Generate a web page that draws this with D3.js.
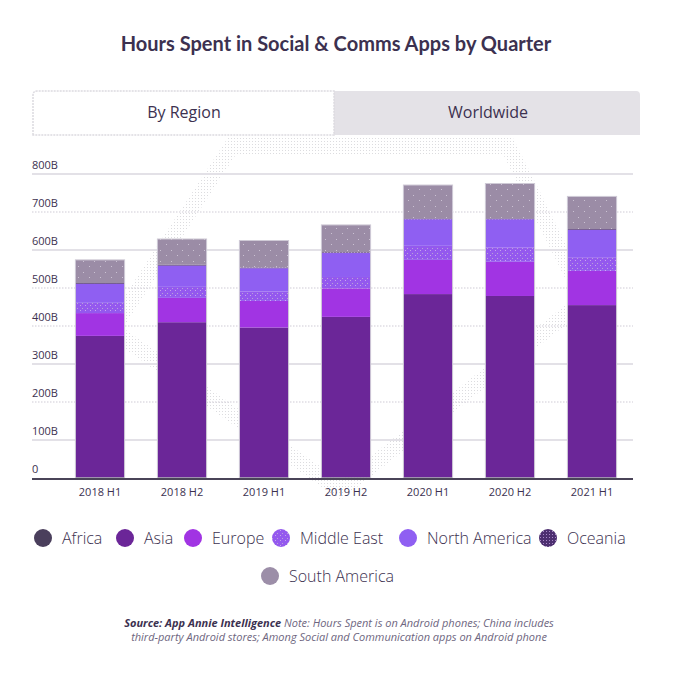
<!DOCTYPE html>
<html><head><meta charset="utf-8">
<script src="https://cdn.jsdelivr.net/npm/d3@7"></script>
<style>
html,body{margin:0;padding:0;background:#fff;}
svg{display:block;}
</style></head>
<body>
<svg id="chart" width="680" height="676"></svg>
<script>
const categories = ["2018 H1","2018 H2","2019 H1","2019 H2","2020 H1","2020 H2","2021 H1"];
const regions = ["Africa","Asia","Europe","Middle East","North America","Oceania","South America"];
const africa       = [2, 2, 2, 2, 2, 2, 2];
const asia         = [372, 408, 394, 422, 482, 477, 453];
const europe       = [60, 64, 70, 75, 90, 90, 90];
const middleEast   = [27, 29, 25, 30, 37, 38, 36];
const northAmerica = [50, 56, 61, 63, 70, 74, 72];
const oceania      = [2, 2, 2, 2, 2, 2, 2];
const southAmerica = [61, 68, 71, 72, 88, 92, 86];
const yTicks = [0,100,200,300,400,500,600,700,800];
const yTickLabels = ["0","100B","200B","300B","400B","500B","600B","700B","800B"];

const series = [africa, asia, europe, middleEast, northAmerica, oceania, southAmerica];
const rows = categories.map((c,i)=>{
  const r = {cat:c};
  regions.forEach((g,j)=> r[g] = series[j][i]);
  return r;
});

const svg = d3.select("#chart");
const defs = svg.append("defs");
const textCol = "#3c3150";

// patterns
function dotPattern(id, base, dot, size, r, pts){
  const p = defs.append("pattern").attr("id",id).attr("patternUnits","userSpaceOnUse")
    .attr("width",size).attr("height",size);
  p.append("rect").attr("width",size).attr("height",size).attr("fill",base);
  pts.forEach(([px,py,c])=> p.append("rect").attr("x",px).attr("y",py).attr("width",r).attr("height",r).attr("fill",c||dot));
}
dotPattern("pME","#9459ee","#c7a2ee",5,1,[[0,0],[2,3,"#b9a3d6"]]);
dotPattern("pSA","#9b8ca6","#cbc2d3",11,1,[[1,2],[6,8]]);
dotPattern("pOC","#4d2f70","#a888c8",3,1,[[0,0]]);
dotPattern("pWM","#ffffff","#dcdcdf",3,1,[[0,0]]);

const fills = {
  "Africa":"#4a3f5c","Asia":"#6b2698","Europe":"#a134e3","Middle East":"url(#pME)",
  "North America":"#8f5ff2","Oceania":"url(#pOC)","South America":"url(#pSA)"
};
const legendFills = {
  "Africa":"#4a3f5c","Asia":"#6b2698","Europe":"#a134e3","Middle East":"url(#pME)",
  "North America":"#8f5ff2","Oceania":"url(#pOC)","South America":"#9c8ea8"
};

// title
svg.append("text").attr("x",336).attr("y",51).attr("text-anchor","middle")
  .attr("font-family","Lato, 'Open Sans', sans-serif").attr("font-weight",700)
  .attr("font-size",20).attr("fill",textCol)
  .text("Hours Spent in Social & Comms Apps by Quarter");

// faint watermark
svg.append("path").attr("d","M232,146 H508 L585,300 L340,490 L112,330 Z")
  .attr("fill","none").attr("stroke","url(#pWM)").attr("stroke-width",16).attr("stroke-linejoin","miter");

// tabs
svg.append("path").attr("d","M33,135 V95 Q33,91 37,91 H636 Q640,91 640,95 V135 Z").attr("fill","#e4e2e7");
svg.append("path").attr("d","M33,135 V95 Q33,91 37,91 H334 V135 Z").attr("fill","#ffffff")
  .attr("stroke","#dcdae0").attr("stroke-width",1.5).attr("stroke-dasharray","2,1");
svg.append("text").attr("x",184).attr("y",118).attr("text-anchor","middle")
  .attr("font-family","'Open Sans', sans-serif").attr("font-size",16).attr("fill",textCol).text("By Region");
svg.append("text").attr("x",488).attr("y",118).attr("text-anchor","middle")
  .attr("font-family","'Open Sans', sans-serif").attr("font-size",16).attr("fill",textCol).text("Worldwide");

// scales
const x = d3.scaleBand().domain(categories).range([59,633]).paddingInner(0.4).paddingOuter(0.2);
const y = d3.scaleLinear().domain([0,800]).range([478,174]);

// gridlines
const grid = svg.append("g");
yTicks.forEach((t,i)=>{
  if(t===0) return;
  const solid = [100,300,600,800].includes(t);
  grid.append("line").attr("x1",32).attr("x2",633).attr("y1",y(t)).attr("y2",y(t))
    .attr("stroke", solid? "#e3e1e7":"#cfcbd5").attr("stroke-width", solid?2:1)
    .attr("stroke-dasharray", solid? null : "1.5,1.5");
});
// y labels
yTicks.forEach((t,i)=>{
  svg.append("text").attr("x",32).attr("y",y(t)-5)
    .attr("font-family","'Open Sans', sans-serif").attr("font-size",11).attr("fill",textCol)
    .text(yTickLabels[i]);
});

// stacks
const stacked = d3.stack().keys(regions)(rows);
const gBars = svg.append("g");
stacked.forEach(layer=>{
  gBars.append("g").selectAll("rect").data(layer).join("rect")
    .attr("x",d=>x(d.data.cat)).attr("width",x.bandwidth())
    .attr("y",d=>y(d[1])).attr("height",d=>y(d[0])-y(d[1]))
    .attr("fill",fills[layer.key]);
});
// bar outlines
const topLayer = stacked[stacked.length-1];
gBars.append("g").selectAll("rect").data(topLayer).join("rect")
  .attr("x",d=>x(d.data.cat)).attr("width",x.bandwidth())
  .attr("y",d=>y(d[1])).attr("height",d=>y(0)-y(d[1]))
  .attr("fill","none").attr("stroke","#cfcad6").attr("stroke-width",1);

// baseline
svg.append("line").attr("x1",32).attr("x2",633).attr("y1",y(0)+1).attr("y2",y(0)+1)
  .attr("stroke","#4a4458").attr("stroke-width",2);

// x axis labels
const xAxis = d3.axisBottom(x).tickSize(0).tickPadding(8);
const gx = svg.append("g").attr("transform",`translate(0,${y(0)+2})`).call(xAxis);
gx.select(".domain").remove();
gx.selectAll("text").attr("font-family","'Open Sans', sans-serif").attr("font-size",11).attr("fill",textCol);

// legend
const legendPos = [[43,538],[125,538],[193,538],[281,538],[408,538],[548,538],[270,576]];
regions.forEach((g,i)=>{
  const [cx,cy] = legendPos[i];
  svg.append("circle").attr("cx",cx).attr("cy",cy).attr("r",9).attr("fill",legendFills[g]);
  svg.append("text").attr("x",cx+19).attr("y",cy+6)
    .attr("font-family","'Open Sans', sans-serif").attr("font-size",16).attr("font-weight",300)
    .attr("fill",textCol).text(g);
});

// source note
const note = svg.append("text").attr("x",339).attr("y",627).attr("text-anchor","middle")
  .attr("font-family","'Open Sans', sans-serif").attr("font-size",11).attr("font-style","italic").attr("fill","#6e6680");
note.append("tspan").attr("font-weight",700).attr("fill",textCol).text("Source: App Annie Intelligence");
note.append("tspan").text(" Note: Hours Spent is on Android phones; China includes");
svg.append("text").attr("x",339).attr("y",641).attr("text-anchor","middle")
  .attr("font-family","'Open Sans', sans-serif").attr("font-size",11).attr("font-style","italic").attr("fill","#6e6680")
  .text("third-party Android stores; Among Social and Communication apps on Android phone");
</script>
</body></html>
